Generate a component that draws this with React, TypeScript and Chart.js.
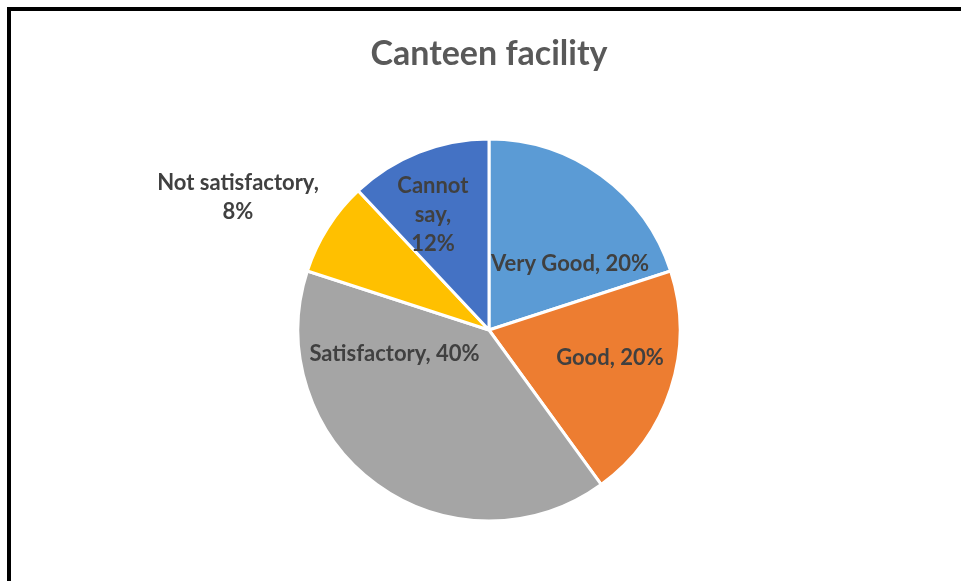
import React, { useEffect, useRef } from "react";
import { Chart, registerables } from "chart.js";

Chart.register(...registerables);

const chartTitle = "Canteen facility";
const categories = ["Very Good", "Good", "Satisfactory", "Not satisfactory", "Cannot say"];
const shares = [20, 20, 40, 8, 12];
const sliceColors = ["#5B9BD5", "#ED7D31", "#A5A5A5", "#FFC000", "#4472C4"];

// label anchor: angle (deg clockwise from 12 o'clock), distance as fraction of radius, wrap width
const labelAngles = [50.8, 103, 256, 297.9, 334];
const labelRadii = [0.547, 0.65, 0.51, 1.487, 0.67];
const labelWrap = [400, 400, 400, 175, 80];

const FONT = "Lato, 'Open Sans', sans-serif";

function wrapText(ctx: CanvasRenderingContext2D, text: string, maxW: number): string[] {
  const words = text.split(" ");
  const lines: string[] = [];
  let cur = "";
  for (const w of words) {
    const test = cur ? cur + " " + w : w;
    if (cur && ctx.measureText(test).width > maxW) {
      lines.push(cur);
      cur = w;
    } else {
      cur = test;
    }
  }
  if (cur) lines.push(cur);
  return lines;
}

const labelPlugin = {
  id: "sliceLabels",
  afterDatasetsDraw(chart: any) {
    const ctx: CanvasRenderingContext2D = chart.ctx;
    const meta = chart.getDatasetMeta(0);
    ctx.save();
    ctx.font = `bold 22px ${FONT}`;
    ctx.fillStyle = "#404040";
    ctx.textAlign = "center";
    ctx.textBaseline = "middle";
    const lineH = 29;
    meta.data.forEach((arc: any, i: number) => {
      const p = arc.getProps(["x", "y", "outerRadius"], true);
      const ang = ((labelAngles[i] - 90) * Math.PI) / 180;
      const cx = p.x + Math.cos(ang) * labelRadii[i] * p.outerRadius;
      const cy = p.y + Math.sin(ang) * labelRadii[i] * p.outerRadius;
      const text = `${chart.data.labels[i]}, ${chart.data.datasets[0].data[i]}%`;
      const lines = wrapText(ctx, text, labelWrap[i]);
      const startY = cy - ((lines.length - 1) * lineH) / 2;
      lines.forEach((ln, k) => ctx.fillText(ln, cx, startY + k * lineH));
    });
    ctx.restore();
  },
};

export default function App() {
  const ref = useRef<HTMLCanvasElement>(null);
  useEffect(() => {
    if (!ref.current) return;
    const chart = new Chart(ref.current, {
      type: "pie",
      data: {
        labels: categories,
        datasets: [
          {
            data: shares,
            backgroundColor: sliceColors,
            borderColor: "#ffffff",
            borderWidth: 3,
            radius: 191,
          } as any,
        ],
      },
      options: {
        animation: false,
        responsive: false,
        layout: { padding: { left: 17, right: 0, top: 0, bottom: 21 } },
        plugins: {
          legend: { display: false },
          tooltip: { enabled: false },
          title: {
            display: true,
            text: chartTitle,
            color: "#595959",
            font: { family: FONT, size: 34, weight: "bold", lineHeight: 1.2 },
            padding: { top: 33.6, bottom: 25.6 },
          },
        },
      },
      plugins: [labelPlugin],
    });
    return () => chart.destroy();
  }, []);
  return (
    <div style={{ position: "fixed", left: 0, top: 0, width: 961, height: 581, background: "#fff", overflow: "hidden" }}>
      <canvas ref={ref} width={961} height={581} style={{ position: "absolute", left: 0, top: 0, width: 961, height: 581 }} />
      <div
        style={{
          position: "absolute",
          left: 7,
          top: 7,
          width: 1200,
          height: 1200,
          borderLeft: "4px solid #000",
          borderTop: "4px solid #000",
          pointerEvents: "none",
        }}
      />
    </div>
  );
}
